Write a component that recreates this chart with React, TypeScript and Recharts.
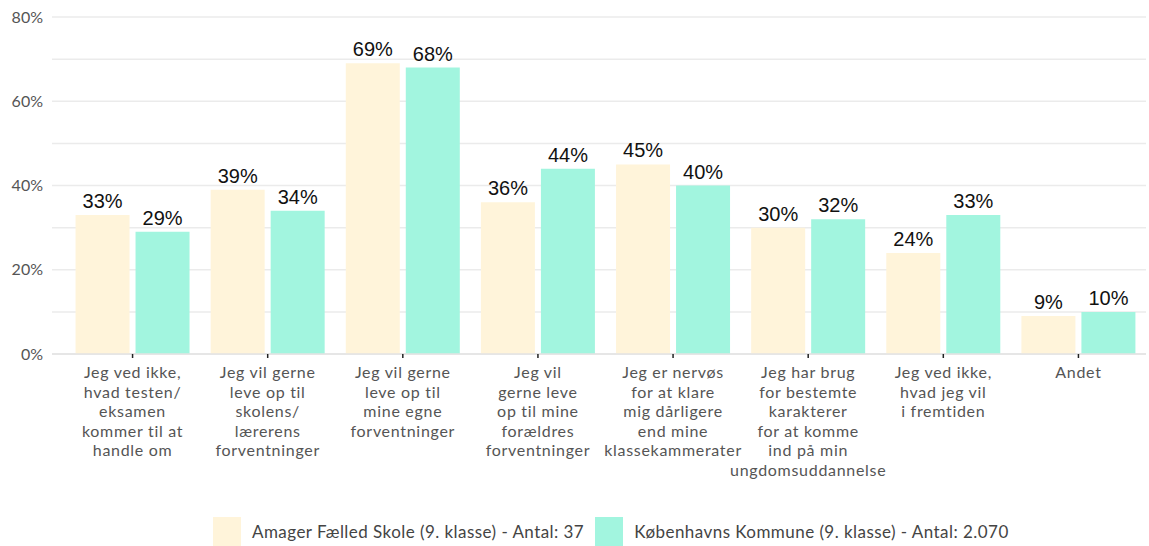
import React from 'react';
import { BarChart, Bar, XAxis, YAxis, CartesianGrid, Legend, LabelList } from 'recharts';

const categories = [
  'Jeg ved ikke, hvad testen/ eksamen kommer til at handle om',
  'Jeg vil gerne leve op til skolens/ lærerens forventninger',
  'Jeg vil gerne leve op til mine egne forventninger',
  'Jeg vil gerne leve op til mine forældres forventninger',
  'Jeg er nervøs for at klare mig dårligere end mine klassekammerater',
  'Jeg har brug for bestemte karakterer for at komme ind på min ungdomsuddannelse',
  'Jeg ved ikke, hvad jeg vil i fremtiden',
  'Andet',
];
const categoryLines: string[][] = [
  ['Jeg ved ikke,', 'hvad testen/', 'eksamen', 'kommer til at', 'handle om'],
  ['Jeg vil gerne', 'leve op til', 'skolens/', 'lærerens', 'forventninger'],
  ['Jeg vil gerne', 'leve op til', 'mine egne', 'forventninger'],
  ['Jeg vil', 'gerne leve', 'op til mine', 'forældres', 'forventninger'],
  ['Jeg er nervøs', 'for at klare', 'mig dårligere', 'end mine', 'klassekammerater'],
  ['Jeg har brug', 'for bestemte', 'karakterer', 'for at komme', 'ind på min', 'ungdomsuddannelse'],
  ['Jeg ved ikke,', 'hvad jeg vil', 'i fremtiden'],
  ['Andet'],
];
const amagerValues = [33, 39, 69, 36, 45, 30, 24, 9];
const kommuneValues = [29, 34, 68, 44, 40, 32, 33, 10];
const yTicks = [0, 10, 20, 30, 40, 50, 60, 70, 80];
const seriesNames = [
  'Amager Fælled Skole (9. klasse) - Antal: 37',
  'Københavns Kommune (9. klasse) - Antal: 2.070',
];
const colors = ['#FFF4DA', '#A2F5DF'];

const data = categories.map((c, i) => ({
  name: c,
  idx: i,
  a: amagerValues[i],
  k: kommuneValues[i],
}));

const FONT = 'Lato, "Open Sans", sans-serif';

const XTick = (props: any) => {
  const { x, y, payload } = props;
  const lines = categoryLines[payload.index] || [payload.value];
  return (
    <g transform={`translate(${x},${y})`}>
      {lines.map((l, i) => (
        <text key={i} x={0} y={18 + i * 19.5} textAnchor="middle" fill="#555" fontSize={16} letterSpacing={0.7} fontFamily={FONT}>
          {l}
        </text>
      ))}
    </g>
  );
};

const LegendContent = () => (
  <div style={{ display: 'flex', justifyContent: 'flex-start', alignItems: 'center', paddingTop: 33, paddingLeft: 213, fontFamily: FONT, fontSize: 17, letterSpacing: 0.45, color: '#444' }}>
    {seriesNames.map((n, i) => (
      <div key={i} style={{ display: 'flex', alignItems: 'center', marginRight: i === 0 ? 11 : 0 }}>
        <div style={{ width: 28, height: 29, background: colors[i], marginRight: 11 }} />
        <span>{n}</span>
      </div>
    ))}
  </div>
);

export default function App() {
  return (
    <div style={{ position: 'absolute', left: 0, top: 0, background: '#fff' }}>
      <BarChart width={1149} height={546} data={data} margin={{ top: 17, right: 3, left: 0, bottom: 0 }} barCategoryGap="7.8%" barGap={6}>
        <CartesianGrid vertical={false} stroke="#EBEBEB" strokeWidth={1.5} />
        <XAxis
          dataKey="name"
          height={130}
          tick={<XTick />}
          interval={0}
          tickLine={{ stroke: '#222', strokeWidth: 1.5 }}
          tickSize={4}
          axisLine={{ stroke: '#E3E3E3', strokeWidth: 1.5 }}
          padding={{ left: 13, right: 0 }}
        />
        <YAxis
          width={52}
          domain={[0, 80]}
          ticks={yTicks}
          interval={0}
          tickFormatter={(v: number) => (v % 20 === 0 ? `${v}%` : '')}
          axisLine={false}
          tickLine={false}
          tickSize={0}
          tickMargin={9}
          tick={{ fill: '#555', fontSize: 16, fontFamily: FONT }}
        />
        <Legend verticalAlign="bottom" height={62} content={<LegendContent />} />
        <Bar dataKey="a" name={seriesNames[0]} fill={colors[0]} isAnimationActive={false}>
          <LabelList dataKey="a" position="top" offset={7} formatter={(v: any) => `${v}%`} fill="#111" fontSize={20} fontFamily='"Liberation Sans", Arial, sans-serif' />
        </Bar>
        <Bar dataKey="k" name={seriesNames[1]} fill={colors[1]} isAnimationActive={false}>
          <LabelList dataKey="k" position="top" offset={7} formatter={(v: any) => `${v}%`} fill="#111" fontSize={20} fontFamily='"Liberation Sans", Arial, sans-serif' />
        </Bar>
      </BarChart>
    </div>
  );
}
